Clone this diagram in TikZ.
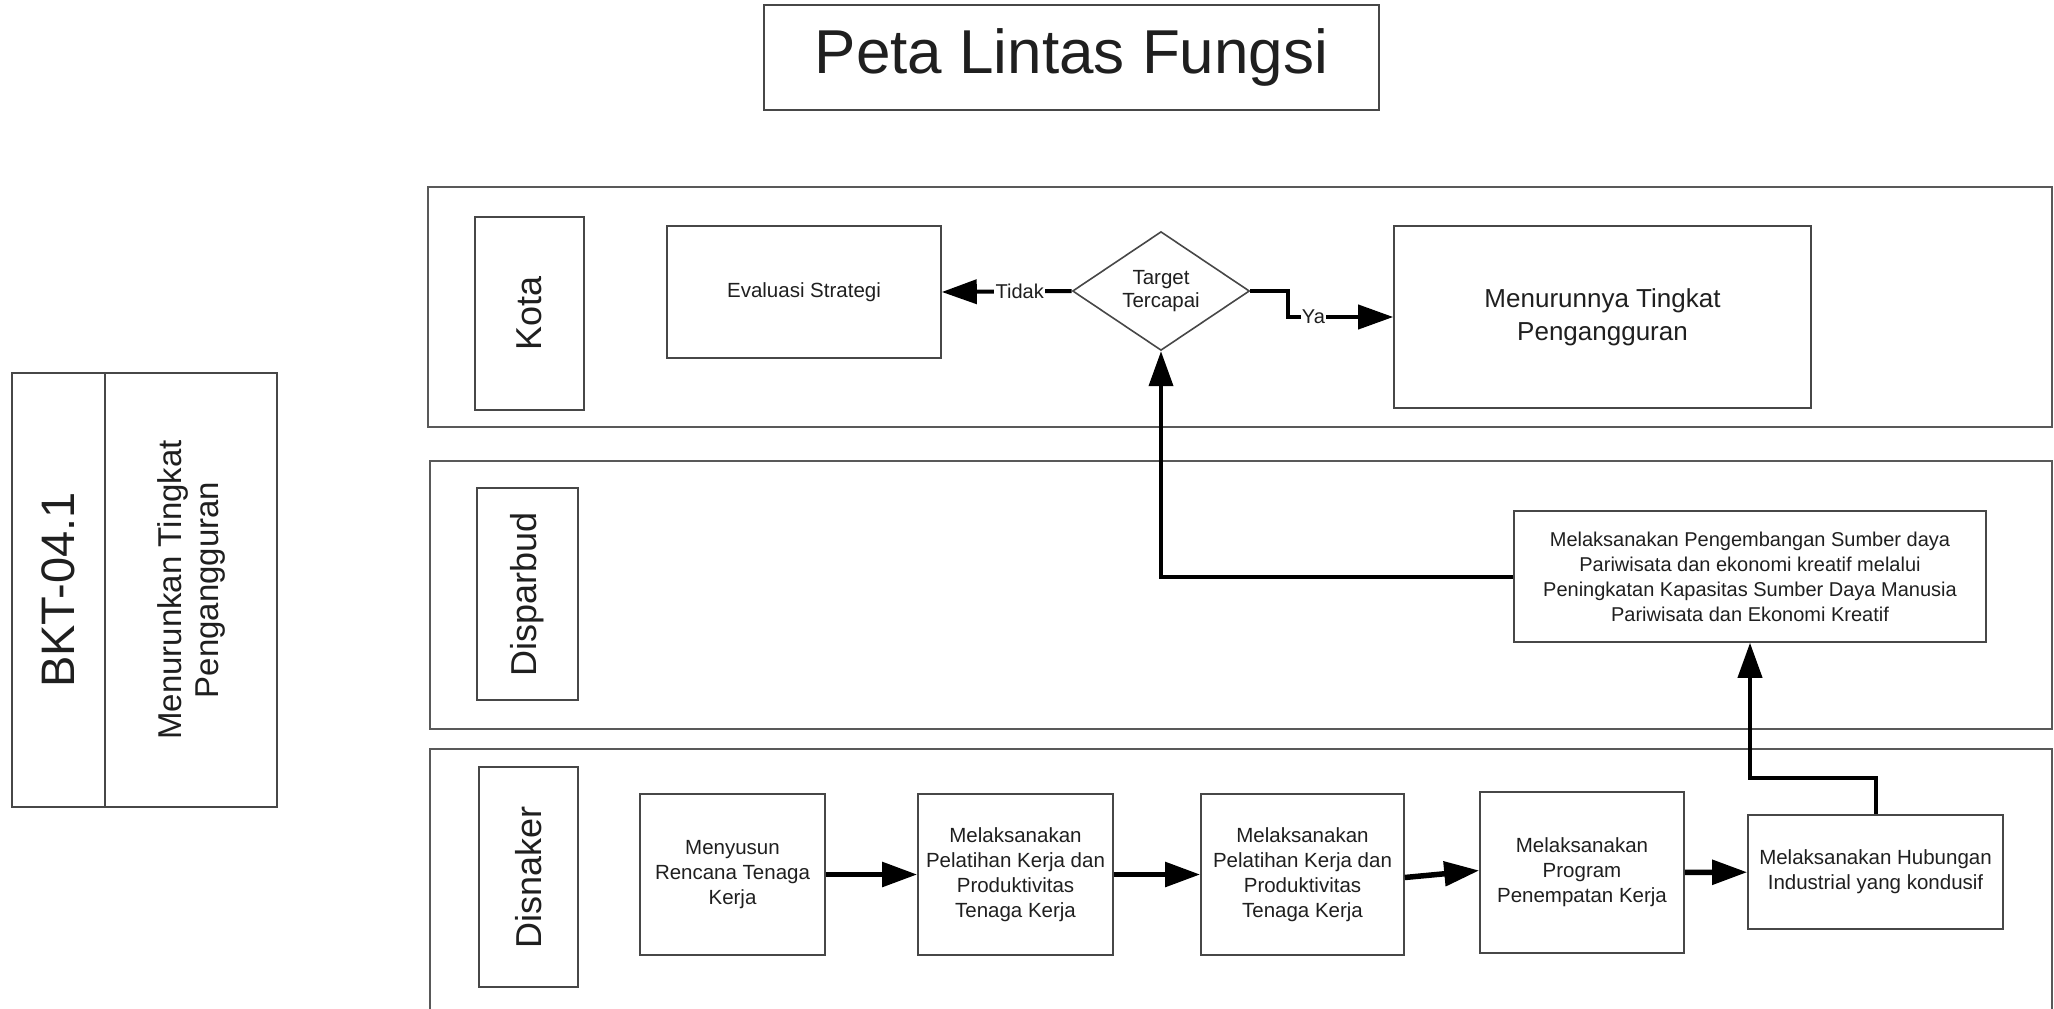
\documentclass[tikz,border=0pt]{standalone}
\usepackage{fontspec}
\setmainfont{Liberation Sans}
\usetikzlibrary{arrows.meta,shapes.geometric}
\newcommand\fsz[2]{\fontsize{#1}{#2}\selectfont}
\begin{document}
\begin{tikzpicture}[x=1pt,y=-1pt,
  every node/.style={text=black!88},
  frame/.style={draw=black!72, line width=1.6pt, inner sep=0pt, align=center},
  lane/.style={draw=black!65, line width=2.2pt, inner sep=0pt},
  task/.style={frame, font=\fsz{20.5}{25}},
  lanelabel/.style={frame, rotate=90, font=\fsz{36}{40}},
  flow/.style={line width=4pt, line join=miter, -{Triangle[length=35pt,width=24pt]}},
  stepflow/.style={flow, line width=5.5pt},
  tag/.style={fill=white, inner sep=1.5pt, font=\fsz{20}{24}}]
\useasboundingbox (0,0) rectangle (2054,1009);
\clip (0,0) rectangle (2054,1009);

% title
\node[frame, minimum width=615pt, minimum height=105pt, font=\fsz{62}{70}]
  (title) at (1071.5,57.5) {Peta Lintas Fungsi};

% objective code and name
\node[frame, rotate=90, minimum width=434pt, minimum height=93pt, font=\fsz{47}{52}]
  (code) at (58.5,590) {BKT-04.1};
\node[frame, rotate=90, minimum width=434pt, minimum height=172pt, font=\fsz{33}{37}]
  (goal) at (191,590) {Menurunkan Tingkat\\Pengangguran};

% swimlanes
\node[lane, minimum width=1624pt, minimum height=240pt] (kotalane) at (1240,307) {};
\node[lane, minimum width=1622pt, minimum height=268pt] (budlane) at (1241,595) {};
\node[lane, minimum width=1622pt, minimum height=300pt] (naklane) at (1241,899) {};

\node[lanelabel, minimum width=193pt, minimum height=109pt] (kota) at (529.5,313.5) {Kota};
\node[lanelabel, minimum width=212pt, minimum height=101pt] (disparbud) at (527.5,594) {Disparbud};
\node[lanelabel, minimum width=220pt, minimum height=99pt] (disnaker) at (528.5,877) {Disnaker};

% Kota lane
\node[task, minimum width=274pt, minimum height=132pt] (eval) at (804,292) {Evaluasi Strategi};
\node[frame, shape=diamond, minimum width=177pt, minimum height=113pt, font=\fsz{20.5}{23}]
  (dec) at (1161,291) {Target\\Tercapai};
\node[task, minimum width=417pt, minimum height=182pt, font=\fsz{26}{33}]
  (ok) at (1602.5,317) {Menurunnya Tingkat\\Pengangguran};

% Disparbud lane
\node[task, minimum width=472pt, minimum height=131pt, font=\fsz{20}{25}] (par) at (1750,576.5)
  {Melaksanakan Pengembangan Sumber daya\\Pariwisata dan ekonomi kreatif melalui\\Peningkatan Kapasitas Sumber Daya Manusia\\Pariwisata dan Ekonomi Kreatif};

% Disnaker lane
\node[task, minimum width=185pt, minimum height=161pt] (b1) at (732.5,874.5)
  {Menyusun\\Rencana Tenaga\\Kerja};
\node[task, minimum width=195pt, minimum height=161pt] (b2) at (1015.5,874.5)
  {Melaksanakan\\Pelatihan Kerja dan\\Produktivitas\\Tenaga Kerja};
\node[task, minimum width=203pt, minimum height=161pt] (b3) at (1302.5,874.5)
  {Melaksanakan\\Pelatihan Kerja dan\\Produktivitas\\Tenaga Kerja};
\node[task, minimum width=204pt, minimum height=161pt] (b4) at (1582,872.5)
  {Melaksanakan\\Program\\Penempatan Kerja};
\node[task, minimum width=255pt, minimum height=114pt] (b5) at (1875.5,872)
  {Melaksanakan Hubungan\\Industrial yang kondusif};

% connectors
\draw[stepflow] (b1) -- (b2);
\draw[stepflow] (b2) -- (b3);
\draw[stepflow] ([yshift=-3pt]b3.east) -- ([yshift=2pt]b4.west);
\draw[stepflow] (b4) -- (b5);
\draw[flow] (b5.north) -- ++(0,-36) -| (par.south);
\draw[flow] (par.west) -| (dec.south);
\draw[flow] (dec.west) -- node[tag, pos=0.4] {Tidak} (eval.east);
\draw[flow] (dec.east) -- ++(38,0) |- node[tag, pos=0.62] {Ya} (ok.west);
\end{tikzpicture}
\end{document}
